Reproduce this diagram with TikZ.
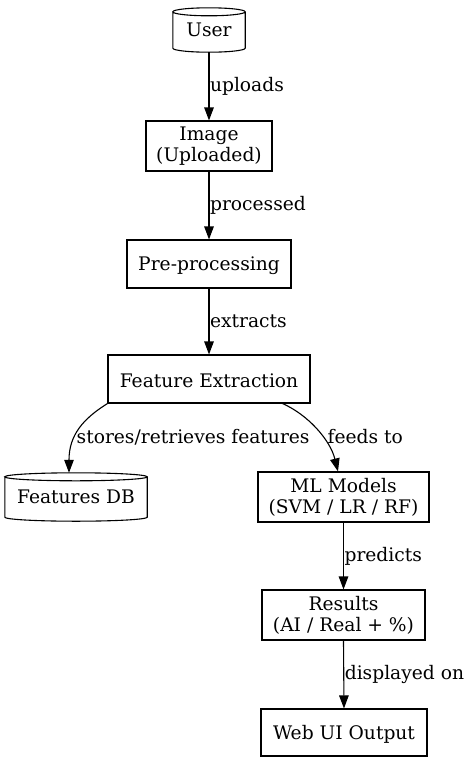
\documentclass[tikz,border=0pt]{standalone}
\usepackage{fontspec}
\setmainfont{DejaVu Serif}
\usetikzlibrary{arrows.meta,calc}
\tikzset{
  txt/.style={font=\fontsize{18.67}{21}\selectfont},
  box/.style={txt, draw, line width=1.1pt, rectangle, align=center, inner sep=0pt,
    execute at begin node={\rule{0pt}{18pt}}},
  cylbox/.style={txt, rectangle, align=center, inner sep=0pt},
  arr/.style={line width=1.1pt, -{Triangle[length=13pt,width=9.5pt]}},
  lbl/.style={txt, anchor=west, inner sep=0.5pt},
}
\newcommand\drawcyl[2]{%
  \draw[line width=1.1pt] let \p1=(#1.north west), \p2=(#1.south east), \n1={(\x2-\x1)/2} in
    (\x1,\y1-#2pt) -- (\x1,\y2+#2pt)
    arc[start angle=180,end angle=360,x radius=\n1,y radius=#2pt]
    -- (\x2,\y1-#2pt)
    arc[start angle=0,end angle=180,x radius=\n1,y radius=#2pt]
    arc[start angle=180,end angle=360,x radius=\n1,y radius=#2pt];}
\begin{document}
\begin{tikzpicture}[x=1pt,y=1pt]
\useasboundingbox (0,0) rectangle (471,-763);
\node[cylbox, minimum width=72pt, minimum height=44pt] (user) at (209,-30) {User};
\drawcyl{user}{4}
\node[box, minimum width=126pt, minimum height=50pt] (img) at (209,-146) {Image\\(Uploaded)};
\node[box, minimum width=164pt, minimum height=48pt] (pre) at (209,-264) {Pre-processing};
\node[box, minimum width=202pt, minimum height=48pt] (fe) at (209,-379) {Feature Extraction};
\node[cylbox, minimum width=142pt, minimum height=48pt] (db) at (76,-497) {Features DB};
\drawcyl{db}{4}
\node[box, minimum width=171pt, minimum height=50pt] (ml) at (343.5,-497) {ML Models\\(SVM / LR / RF)};
\node[box, minimum width=163pt, minimum height=50pt] (res) at (343.5,-615) {Results\\(AI / Real + \%)};
\node[box, minimum width=166pt, minimum height=47pt] (web) at (344,-732.5) {Web UI Output};

\draw[arr] (user.south) -- node[lbl] (l1) {uploads} (img.north);
\draw[arr] (img.south) -- node[lbl] (l2) {processed} (pre.north);
\draw[arr] (pre.south) -- node[lbl] (l3) {extracts} (fe.north);
\draw[arr] (fe.south west) .. controls +(-24,-15) and +(0,38) .. ([xshift=-7pt]db.north);
\node[lbl] (l4) at (76,-437) {stores/retrieves features};
\draw[arr] ([xshift=-28pt]fe.south east) .. controls +(25,-11) and +(-8,32) .. ([xshift=-5.5pt]ml.north);
\node[lbl] (l5) at (327,-437) {feeds to};
\draw[arr] (ml.south) -- node[lbl] (l6) {predicts} (res.north);
\draw[arr] (res.south) -- node[lbl] (l7) {displayed on} (web.north);
\end{tikzpicture}
\end{document}
